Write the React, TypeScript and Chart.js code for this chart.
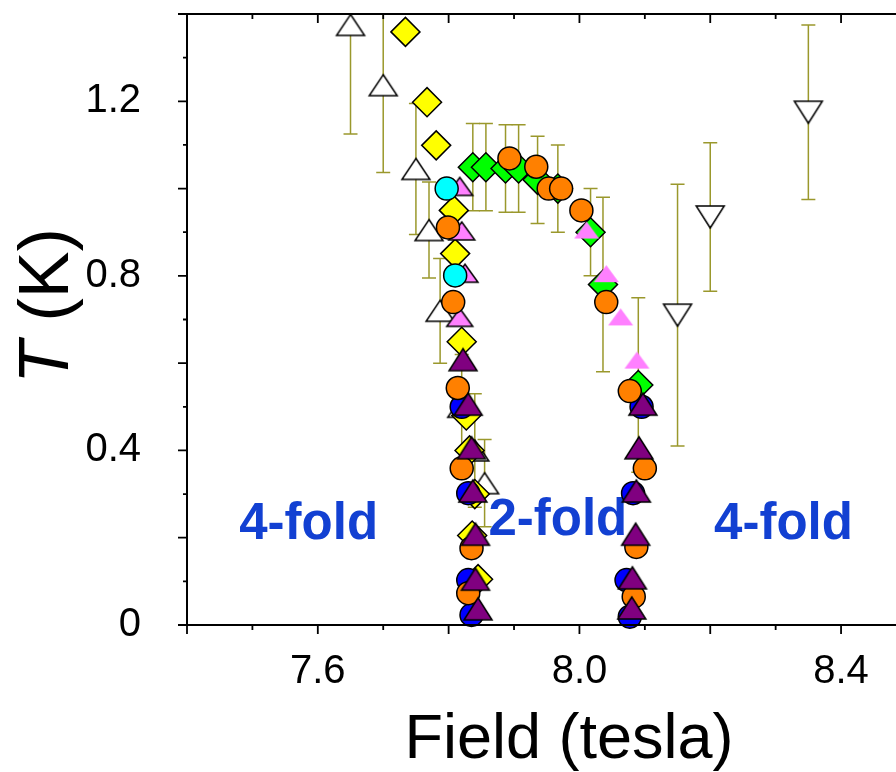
import React, { useEffect, useRef } from 'react';
import { Chart, registerables } from 'chart.js';

Chart.register(...registerables);

const FONT = "'Liberation Sans', Arial, Helvetica, sans-serif";
const OLIVE = '#9a982c';
const LABEL_BLUE = '#1240d2';

// Axis ranges
const FIELD_MIN = 7.4;
const FIELD_MAX = 8.484;
const T_MIN = 0;
const T_MAX = 1.4;

// Tick values
const FIELD_LABEL_VALUES = [7.6, 8.0, 8.4];
const FIELD_MAJOR_TICKS = [7.4, 7.6, 7.8, 8.0, 8.2, 8.4];
const FIELD_MINOR_TICKS = [7.5, 7.7, 7.9, 8.1, 8.3];
const T_LABEL_VALUES = [0, 0.4, 0.8, 1.2];
const T_MAJOR_TICKS = [0, 0.2, 0.4, 0.6, 0.8, 1.0, 1.2, 1.4];
const T_MINOR_TICKS = [0.1, 0.3, 0.5, 0.7, 0.9, 1.1, 1.3];

// Open up-triangles (with error bars)
const openUpField = [7.65, 7.70, 7.75, 7.77, 7.787, 7.82, 7.84, 7.855];
const openUpT = [1.375, 1.237, 1.045, 0.905, 0.72, 0.5, 0.4, 0.325];
const openUpErr = [0.25, 0.2, 0.15, 0.11, 0.12, 0.12, 0.13, 0.1];

// Open down-triangles (with error bars)
const openDownField = [8.15, 8.2, 8.35];
const openDownT = [0.71, 0.935, 1.175];
const openDownErr = [0.3, 0.17, 0.2];

// Yellow diamonds
const yellowField = [7.734, 7.767, 7.781, 7.808, 7.81, 7.82, 7.827, 7.832, 7.84, 7.836, 7.845];
const yellowT = [1.359, 1.198, 1.099, 0.95, 0.851, 0.649, 0.48, 0.4, 0.3, 0.205, 0.105];

// Green diamonds (with error bars)
const greenField = [7.837, 7.857, 7.887, 7.907, 7.936, 7.967, 8.017, 8.036, 8.09];
const greenT = [1.049, 1.049, 1.046, 1.046, 1.02, 1.0, 0.9, 0.78, 0.55];
const greenErr = [0.1, 0.1, 0.1, 0.1, 0.1, 0.1, 0.1, 0.2, 0.2];

// Pink triangles, outlined
const pinkAField = [7.817, 7.82, 7.825, 7.817];
const pinkAT = [1.005, 0.903, 0.806, 0.705];

// Pink triangles, no outline
const pinkBField = [8.011, 8.041, 8.063, 8.088];
const pinkBT = [0.905, 0.805, 0.706, 0.607];

// Cyan circles
const cyanField = [7.797, 7.81];
const cyanT = [1.0, 0.801];

// Blue circles
const blueField = [7.82, 7.83, 7.83, 7.835, 8.095, 8.082, 8.072, 8.077];
const blueT = [0.5, 0.302, 0.103, 0.023, 0.5, 0.302, 0.103, 0.019];

// Orange circles
const orangeField = [7.799, 7.807, 7.814, 7.82, 7.835, 7.83, 7.893, 7.934, 7.953, 7.972, 8.003, 8.041, 8.077, 8.1, 8.087, 8.083];
const orangeT = [0.911, 0.74, 0.543, 0.359, 0.176, 0.073, 1.069, 1.05, 1.0, 1.0, 0.95, 0.74, 0.536, 0.359, 0.179, 0.065];

// Purple triangles
const purpleField = [7.822, 7.83, 7.835, 7.837, 7.841, 7.841, 7.845, 8.097, 8.091, 8.087, 8.086, 8.081, 8.08];
const purpleT = [0.608, 0.506, 0.406, 0.307, 0.208, 0.105, 0.037, 0.506, 0.406, 0.307, 0.208, 0.108, 0.039];

// Phase labels
const phaseText = ['4-fold', '2-fold', '4-fold'];
const phaseField = [7.586, 7.967, 8.312];
const phaseT = [0.197, 0.206, 0.197];

const pts = (xs: number[], ys: number[]) => xs.map((x, i) => ({ x, y: ys[i] }));

const errorSets = [
  { xs: openUpField, ys: openUpT, es: openUpErr },
  { xs: openDownField, ys: openDownT, es: openDownErr },
  { xs: greenField, ys: greenT, es: greenErr },
];

function triangleMarker(w: number, h: number, fill: string, stroke: string | null, lw: number, down: boolean) {
  const pad = 4;
  const c = document.createElement('canvas');
  c.width = Math.round(w + 2 * pad);
  c.height = Math.round(h + 2 * pad);
  const g = c.getContext('2d')!;
  g.beginPath();
  if (!down) {
    g.moveTo(pad + w / 2, pad);
    g.lineTo(pad + w, pad + h);
    g.lineTo(pad, pad + h);
  } else {
    g.moveTo(pad, pad);
    g.lineTo(pad + w, pad);
    g.lineTo(pad + w / 2, pad + h);
  }
  g.closePath();
  g.fillStyle = fill;
  g.fill();
  if (stroke) {
    g.lineWidth = lw;
    g.strokeStyle = stroke;
    g.stroke();
  }
  return c;
}

const framePlugin = {
  id: 'frame',
  beforeDatasetsDraw(chart: any) {
    const { ctx, chartArea: a, scales } = chart;
    const sx = scales.x;
    const sy = scales.y;
    ctx.save();
    ctx.beginPath();
    ctx.rect(a.left, a.top, a.right - a.left, a.bottom - a.top);
    ctx.clip();
    // phase labels
    ctx.font = `bold 51px ${FONT}`;
    ctx.fillStyle = LABEL_BLUE;
    ctx.textAlign = 'center';
    ctx.textBaseline = 'alphabetic';
    phaseText.forEach((t, i) => {
      ctx.fillText(t, sx.getPixelForValue(phaseField[i]), sy.getPixelForValue(phaseT[i]));
    });
    // error bars
    ctx.strokeStyle = OLIVE;
    ctx.lineWidth = 1.5;
    const cap = 7;
    for (const s of errorSets) {
      s.xs.forEach((xv, i) => {
        const px = sx.getPixelForValue(xv);
        const top = sy.getPixelForValue(s.ys[i] + s.es[i]);
        const bot = sy.getPixelForValue(s.ys[i] - s.es[i]);
        ctx.beginPath();
        ctx.moveTo(px, top);
        ctx.lineTo(px, bot);
        ctx.moveTo(px - cap, top);
        ctx.lineTo(px + cap, top);
        ctx.moveTo(px - cap, bot);
        ctx.lineTo(px + cap, bot);
        ctx.stroke();
      });
    }
    ctx.restore();
  },
  afterDatasetsDraw(chart: any) {
    const { ctx, chartArea: a, scales } = chart;
    const sx = scales.x;
    const sy = scales.y;
    ctx.save();
    ctx.strokeStyle = '#000';
    ctx.lineWidth = 2;
    ctx.lineCap = 'butt';
    // frame lines
    ctx.beginPath();
    ctx.moveTo(a.left, a.top);
    ctx.lineTo(a.left, a.bottom);
    ctx.moveTo(a.left, a.bottom);
    ctx.lineTo(a.right, a.bottom);
    ctx.moveTo(a.left, a.top);
    ctx.lineTo(a.right, a.top);
    ctx.stroke();
    ctx.lineWidth = 1.8;
    ctx.beginPath();
    const xTick = (v: number, len: number) => {
      const px = sx.getPixelForValue(v);
      ctx.moveTo(px, a.bottom);
      ctx.lineTo(px, a.bottom + len);
      ctx.moveTo(px, a.top);
      ctx.lineTo(px, a.top + len);
    };
    FIELD_MAJOR_TICKS.forEach((v) => xTick(v, 9));
    FIELD_MINOR_TICKS.forEach((v) => xTick(v, 5));
    const yTick = (v: number, len: number) => {
      const py = sy.getPixelForValue(v);
      ctx.moveTo(a.left, py);
      ctx.lineTo(a.left - len, py);
    };
    T_MAJOR_TICKS.forEach((v) => yTick(v, 9));
    T_MINOR_TICKS.forEach((v) => yTick(v, 4));
    ctx.stroke();

    // axis titles
    ctx.fillStyle = '#000';
    ctx.textBaseline = 'alphabetic';
    ctx.textAlign = 'center';
    ctx.font = `63px ${FONT}`;
    ctx.fillText('Field (tesla)', 569, 758);

    ctx.translate(68, 306);
    ctx.rotate(-Math.PI / 2);
    ctx.textAlign = 'left';
    const size = 70;
    ctx.font = `italic ${size}px ${FONT}`;
    const wT = ctx.measureText('T').width;
    ctx.font = `${size}px ${FONT}`;
    const wRest = ctx.measureText(' (K)').width;
    const start = -(wT + wRest) / 2;
    ctx.font = `italic ${size}px ${FONT}`;
    ctx.fillText('T', start, 0);
    ctx.font = `${size}px ${FONT}`;
    ctx.fillText(' (K)', start + wT, 0);
    ctx.restore();
  },
};

const noPadding = (s: any) => {
  s.paddingTop = 0;
  s.paddingBottom = 0;
  s.paddingLeft = 0;
  s.paddingRight = 0;
};

export default function App() {
  const ref = useRef<HTMLCanvasElement | null>(null);

  useEffect(() => {
    document.body.style.margin = '0';
    const canvas = ref.current!;
    const openUp = triangleMarker(28, 21, '#ffffff', '#000000', 1.5, false);
    const openDown = triangleMarker(28, 22, '#ffffff', '#000000', 1.5, true);
    const purple = triangleMarker(28, 22, '#800080', '#000000', 1.5, false);
    const pinkA = triangleMarker(26, 18, '#ff80ff', '#000000', 1.5, false);
    const pinkB = triangleMarker(25, 17, '#ff80ff', null, 0, false);

    const common = { showLine: false, clip: false as any };
    const circle = (data: any, color: string) => ({
      ...common, data, pointStyle: 'circle', pointRadius: 11.5,
      backgroundColor: color, borderColor: '#000', borderWidth: 1.5,
    });
    const diamond = (data: any, color: string) => ({
      ...common, data, pointStyle: 'rectRot', pointRadius: 14.5,
      backgroundColor: color, borderColor: '#000', borderWidth: 1.5,
    });
    const image = (data: any, img: HTMLCanvasElement) => ({
      ...common, data, pointStyle: img, pointRadius: 12,
      backgroundColor: 'transparent', borderColor: 'transparent', borderWidth: 0,
    });

    // first dataset is drawn on top
    const chart = new Chart(canvas, {
      type: 'scatter',
      data: {
        datasets: [
          image(pts(purpleField, purpleT), purple),
          circle(pts(orangeField, orangeT), '#ff8000'),
          circle(pts(blueField, blueT), '#0000ff'),
          circle(pts(cyanField, cyanT), '#00ffff'),
          image(pts(pinkAField, pinkAT), pinkA),
          image(pts(pinkBField, pinkBT), pinkB),
          diamond(pts(greenField, greenT), '#00ff00'),
          diamond(pts(yellowField, yellowT), '#ffff00'),
          image(pts(openDownField, openDownT), openDown),
          image(pts(openUpField, openUpT), openUp),
        ] as any,
      },
      options: {
        animation: false,
        responsive: false,
        events: [],
        layout: { autoPadding: false, padding: { top: 14, right: 0, left: 0, bottom: 0 } },
        plugins: { legend: { display: false }, tooltip: { enabled: false } },
        scales: {
          x: {
            type: 'linear',
            position: 'bottom',
            min: FIELD_MIN,
            max: FIELD_MAX,
            grid: { display: false },
            border: { display: false },
            afterBuildTicks: (s: any) => {
              s.ticks = FIELD_LABEL_VALUES.map((v) => ({ value: v }));
            },
            afterFit: (s: any) => {
              s.height = 147;
              noPadding(s);
            },
            ticks: {
              font: { family: FONT, size: 40 },
              color: '#000',
              padding: 15,
              maxRotation: 0,
              autoSkip: false,
              callback: (v: any) => Number(v).toFixed(1),
            },
          },
          y: {
            type: 'linear',
            min: T_MIN,
            max: T_MAX,
            grid: { display: false },
            border: { display: false },
            afterBuildTicks: (s: any) => {
              s.ticks = T_LABEL_VALUES.map((v) => ({ value: v }));
            },
            afterFit: (s: any) => {
              s.width = 187;
              noPadding(s);
            },
            ticks: {
              font: { family: FONT, size: 40 },
              color: '#000',
              padding: 38,
              autoSkip: false,
              callback: (v: any) => (Number(v) === 0 ? '0' : Number(v).toFixed(1)),
            },
          },
        },
      } as any,
      plugins: [framePlugin],
    });
    return () => chart.destroy();
  }, []);

  return (
    <div style={{ position: 'absolute', left: 0, top: 0, width: 896, height: 772, background: '#fff' }}>
      <canvas ref={ref} width={896} height={772} style={{ display: 'block', width: 896, height: 772 }} />
    </div>
  );
}
